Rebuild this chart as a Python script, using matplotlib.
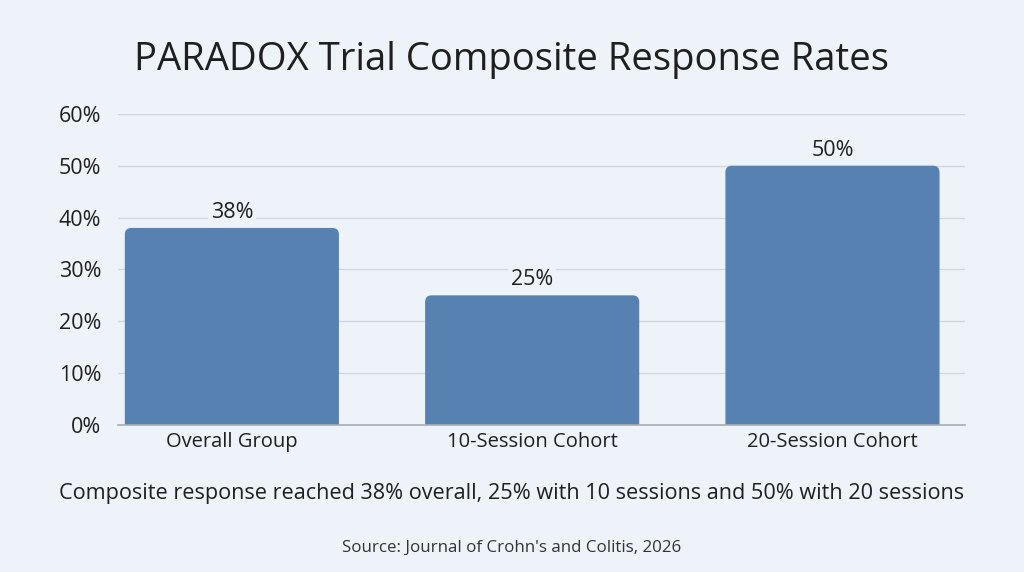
import matplotlib.pyplot as plt
from matplotlib.patches import FancyBboxPatch

categories = ['Overall Group', '10-Session Cohort', '20-Session Cohort']
rates = [38, 25, 50]
yticks = [0, 10, 20, 30, 40, 50, 60]

title = 'PARADOX Trial Composite Response Rates'
caption = 'Composite response reached 38% overall, 25% with 10 sessions and 50% with 20 sessions'
source = "Source: Journal of Crohn's and Colitis, 2026"

bg = '#EEF3FA'
bar_color = '#5781B1'
text_color = '#1f1f1f'

plt.rcParams['font.family'] = ['Open Sans', 'DejaVu Sans']

fig = plt.figure(figsize=(10.24, 5.72), dpi=100, facecolor=bg)
ax = fig.add_axes([0.115, 0.257, 0.827, 0.544])
ax.set_facecolor(bg)

x = list(range(len(categories)))
width = 0.713
ax.set_xlim(-0.38, 2.44)
ax.set_ylim(0, 60)

# rounded top corners; bottom pushed below 0 so it gets clipped square
r = 0.022
aspect = 58
for xi, v in zip(x, rates):
    p = FancyBboxPatch((xi - width / 2, -3), width, v + 3,
                       boxstyle=f'round,pad=0,rounding_size={r}',
                       mutation_aspect=aspect,
                       facecolor=bar_color, edgecolor='none', zorder=3)
    ax.add_patch(p)
    ax.text(xi, v + 1.0, f'{v}%', ha='center', va='bottom',
            fontsize=15.5, color=text_color, zorder=4,
            bbox=dict(facecolor=bg, edgecolor='none', pad=2))

ax.set_yticks(yticks)
ax.set_yticklabels([f'{t}%' for t in yticks], fontsize=15.5, color=text_color)
ax.set_xticks(x)
ax.set_xticklabels(categories, fontsize=14.5, color=text_color)
ax.tick_params(axis='both', length=0)
ax.tick_params(axis='y', pad=12)
ax.tick_params(axis='x', pad=5)

ax.grid(axis='y', color='#d3d7dc', linewidth=1.0, zorder=0)
for s in ['top', 'right', 'left']:
    ax.spines[s].set_visible(False)
ax.spines['bottom'].set_color('#a9adb2')
ax.spines['bottom'].set_linewidth(1.2)
ax.spines['bottom'].set_zorder(4)

fig.text(0.5, 0.895, title, ha='center', va='center', fontsize=27.5, color=text_color)
fig.text(0.5, 0.138, caption, ha='center', va='center', fontsize=15.6, color=text_color)
fig.text(0.5, 0.042, source, ha='center', va='center', fontsize=12.2, color='#333333')

fig.savefig('out.png', dpi=100, facecolor=bg)
